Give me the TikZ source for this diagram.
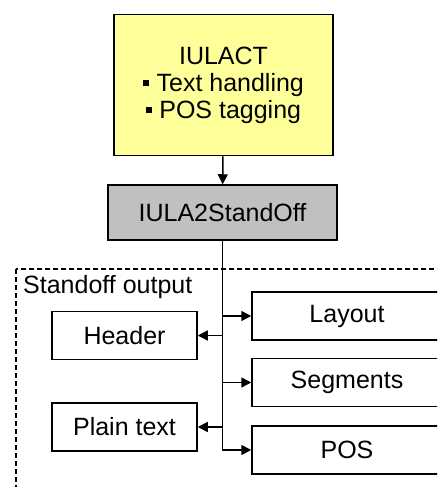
\documentclass[tikz,border=0pt]{standalone}
\usepackage{fontspec}
\setmainfont{Liberation Sans}
\usetikzlibrary{arrows.meta}

\definecolor{notepad}{RGB}{255,255,153}
\definecolor{toolgray}{RGB}{192,192,192}
\newcommand{\sqbul}{\rule[0.2em]{0.24em}{0.24em}\hspace{0.3em}}

\tikzset{
  box/.style={draw, line width=1.5pt, inner sep=0pt, minimum height=48pt},
  outbox/.style={box, minimum width=190pt},
  link/.style={line width=1.5pt, -{Triangle[length=10pt,width=10pt]}},
  frame/.style={line width=1.3pt, dash pattern=on 5pt off 3pt},
}

\begin{document}
\begin{tikzpicture}[x=1pt,y=-1pt,font=\fontsize{25}{27}\selectfont]
    \clip (0,0) rectangle (437,487);
    \fill[white] (0,0) rectangle (437,487);

    % tagger and converter
    \node[box, fill=notepad, minimum width=219pt, minimum height=141pt, align=center] (iulact) at (223.5,85) {IULACT\\\sqbul Text handling\\\sqbul POS tagging\hspace{0.3em}};
    \node[box, fill=toolgray, minimum width=229pt, minimum height=55pt] (converter) at (222.5,212.5) {IULA2StandOff};

    % standoff output
    \draw[frame] (16,269) rectangle (460,510);
    \node[anchor=base west, inner sep=0pt] (outlabel) at (23,293) {Standoff output};
    \node[box, minimum width=145pt] (header) at (124.5,335.5) {Header};
    \node[box, minimum width=145pt] (plain) at (124.5,427) {Plain text};
    \node[outbox] (layout) at (347,316) {Layout};
    \node[outbox] (segments) at (347,382.5) {Segments};
    \node[outbox] (pos) at (347,450) {POS};

    \draw[link] (iulact) -- (converter);
    \draw[link] (converter.south) |- (pos.west);
    \foreach \target/\side in {layout/west, segments/west, header/east, plain/east} {
        \draw[link] (converter.south |- \target.\side) -- (\target.\side);
    }
\end{tikzpicture}
\end{document}
